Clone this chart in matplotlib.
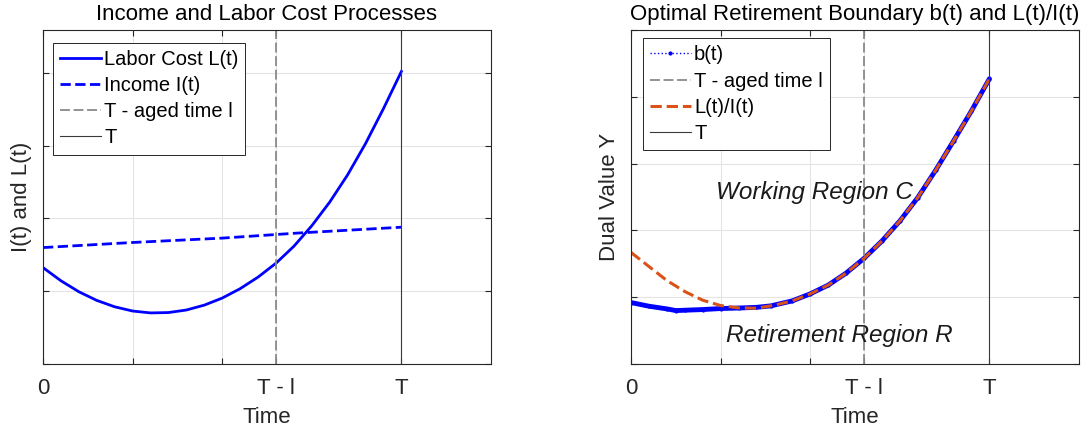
import matplotlib
matplotlib.use('Agg')
import matplotlib.pyplot as plt

plt.rcParams['font.family'] = ['Liberation Sans', 'DejaVu Sans']

# time axis: T and T - l positions (arbitrary units)
T = 40
T_MINUS_L = 26
X_MAX = 50
xtick_pos = [0, 10, 20, T_MINUS_L, T]
xtick_labels = ['0', '', '', 'T - l', 'T']

# left panel: labor cost and income
t_labor = [0, 2, 4, 6, 8, 10, 12, 14, 16, 18, 20, 22, 24, 26, 28, 30, 32, 34,
           36, 38, 40]
labor_cost = [1.325, 1.144, 0.993, 0.874, 0.786, 0.728, 0.702, 0.707, 0.742,
              0.809, 0.906, 1.035, 1.194, 1.385, 1.618, 1.90, 2.225, 2.60,
              3.03, 3.51, 4.02]
t_income = [0, 10, 20, 28.5, 40]
income = [1.60, 1.67, 1.73, 1.80, 1.88]

# right panel: boundary b(t) and ratio L(t)/I(t)
t_boundary = [0, 2, 4, 5, 6, 8, 10, 12, 14, 15.6, 18, 20, 22, 24, 26, 28, 30,
              32, 34, 36, 38, 40]
boundary = [0.92, 0.865, 0.825, 0.80, 0.805, 0.815, 0.83, 0.838, 0.848, 0.87,
            0.945, 1.05, 1.18, 1.36, 1.58, 1.84, 2.14, 2.49, 2.90, 3.34,
            3.79, 4.27]
t_ratio = [0, 2, 4, 6, 8, 10, 12, 14, 16, 18, 20, 22, 24, 26, 28, 30, 32, 34,
           36, 38, 40]
ratio = [1.67, 1.46, 1.25, 1.085, 0.955, 0.875, 0.84, 0.835, 0.88, 0.945, 1.05,
         1.18, 1.36, 1.58, 1.84, 2.14, 2.49, 2.90, 3.34, 3.79, 4.27]

DARK = '#262626'
BLUE = '#0000ff'
ORANGE = '#D95319'
GRAY = '#8a8a8a'
FS = 16


def style_axes(ax, ymax):
    ax.set_xlim(0, X_MAX)
    ax.set_ylim(0, ymax)
    ax.set_xticks(xtick_pos)
    ax.set_xticklabels(xtick_labels)
    ax.set_yticks(range(0, int(ymax) + 1))
    ax.set_yticklabels([])
    ax.tick_params(direction='in', length=4.5, width=0.8, colors=DARK,
                   top=True, right=True, labelsize=FS, pad=10)
    ax.tick_params(axis='y', pad=0)
    ax.grid(True, color='#e4e4e4', lw=0.8)
    ax.set_axisbelow(True)
    for s in ax.spines.values():
        s.set_color(DARK)
        s.set_linewidth(0.8)
    ax.set_xlabel('Time', fontsize=FS, color=DARK, labelpad=6)


def add_vlines(ax):
    ax.axvline(T_MINUS_L, color=GRAY, lw=1.3, dashes=(5.5, 2),
               label='T - aged time l')


def add_legend(ax, x0, y0):
    ax.legend(loc='upper left', bbox_to_anchor=(x0, y0), borderaxespad=0,
              fontsize=14.5, handlelength=2.05, handletextpad=0.15,
              labelspacing=0.36, borderpad=0.35, fancybox=False,
              framealpha=1, edgecolor=DARK)
    ax.get_legend().get_frame().set_linewidth(0.7)


fig = plt.figure(figsize=(10.9, 4.3), dpi=100)
ax1 = fig.add_axes([43 / 1090, 66 / 430, 448 / 1090, 334 / 430])
ax2 = fig.add_axes([631 / 1090, 66 / 430, 448 / 1090, 334 / 430])

# left: income and labor cost
style_axes(ax1, 4.59)
ax1.plot(t_labor, labor_cost, color=BLUE, lw=2, label='Labor Cost L(t)')
ax1.plot(t_income, income, color=BLUE, lw=2, ls='--', label='Income I(t)')
add_vlines(ax1)
ax1.axvline(T, color='#3a3a3a', lw=0.8, label='T')
ax1.set_ylabel('I(t) and L(t)', fontsize=FS, color=DARK, labelpad=8)
ax1.set_title('Income and Labor Cost Processes', fontsize=FS, color='black', pad=7)
add_legend(ax1, (52.7 - 43) / 448, (364 - 42.7) / 334)

# right: retirement boundary
style_axes(ax2, 5)
ax2.plot(t_boundary, boundary, color=BLUE, lw=1, ls=':', marker='.',
         markersize=4, label='b(t)')
ax2.plot(t_boundary, boundary, color=BLUE, lw=3.5, solid_capstyle='round')
add_vlines(ax2)
ax2.plot(t_ratio, ratio, color=ORANGE, lw=2.2, ls='--', label='L(t)/I(t)')
ax2.axvline(T, color='#3a3a3a', lw=0.8, label='T')
ax2.set_ylabel('Dual Value Y', fontsize=FS, color=DARK, labelpad=8)
ax2.set_title('Optimal Retirement Boundary b(t) and L(t)/I(t)', fontsize=FS,
              color='black', pad=7)
ax2.text(20.5, 2.56, 'Working Region C', fontsize=17.5, style='italic',
         ha='center', va='center', color='#1a1a1a')
ax2.text(23.3, 0.43, 'Retirement Region R', fontsize=17.5, style='italic',
         ha='center', va='center', color='#1a1a1a')
add_legend(ax2, (642.7 - 631) / 448, (364 - 38.3) / 334)

fig.savefig('out.png', dpi=100)
